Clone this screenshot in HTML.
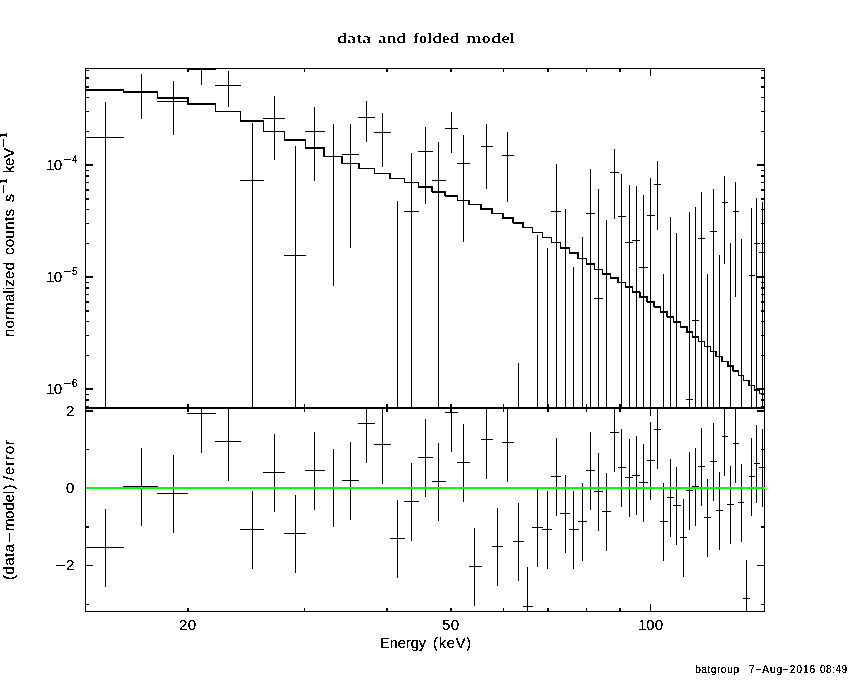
<!DOCTYPE html>
<html><head><meta charset="utf-8"><title>data and folded model</title>
<style>html,body{margin:0;padding:0;background:#fff;width:850px;height:680px;overflow:hidden}
body{position:relative}</style></head>
<body>
<svg width="850" height="680" viewBox="0 0 850 680" shape-rendering="crispEdges" style="position:absolute;left:0;top:0">
<rect x="0" y="0" width="850" height="680" fill="#fff"/>
<path fill="#000" d="M85 68h680v1h-680zM85 407h680v2h-680zM85 611h680v1h-680zM85 68h1v544h-1zM764 68h1v544h-1zM86 164h7v2h-7zM757 164h7v2h-7zM86 131h3v1h-3zM761 131h3v1h-3zM86 111h3v1h-3zM761 111h3v1h-3zM86 97h3v1h-3zM761 97h3v1h-3zM86 86h3v2h-3zM761 86h3v2h-3zM86 77h3v2h-3zM761 77h3v2h-3zM86 70h3v1h-3zM761 70h3v1h-3zM86 276h7v2h-7zM757 276h7v2h-7zM86 243h3v1h-3zM761 243h3v1h-3zM86 223h3v1h-3zM761 223h3v1h-3zM86 209h3v1h-3zM761 209h3v1h-3zM86 198h3v2h-3zM761 198h3v2h-3zM86 189h3v2h-3zM761 189h3v2h-3zM86 182h3v1h-3zM761 182h3v1h-3zM86 175h3v2h-3zM761 175h3v2h-3zM86 170h3v1h-3zM761 170h3v1h-3zM86 388h7v2h-7zM757 388h7v2h-7zM86 355h3v1h-3zM761 355h3v1h-3zM86 335h3v1h-3zM761 335h3v1h-3zM86 321h3v1h-3zM761 321h3v1h-3zM86 310h3v2h-3zM761 310h3v2h-3zM86 301h3v2h-3zM761 301h3v2h-3zM86 294h3v1h-3zM761 294h3v1h-3zM86 287h3v2h-3zM761 287h3v2h-3zM86 282h3v1h-3zM761 282h3v1h-3zM86 406h3v1h-3zM761 406h3v1h-3zM86 399h3v2h-3zM761 399h3v2h-3zM86 394h3v1h-3zM761 394h3v1h-3zM86 604h3v1h-3zM761 604h3v1h-3zM86 565h7v1h-7zM757 565h7v1h-7zM86 526h3v2h-3zM761 526h3v2h-3zM86 488h7v1h-7zM757 488h7v1h-7zM86 449h3v1h-3zM761 449h3v1h-3zM86 410h7v2h-7zM757 410h7v2h-7zM187 69h2v3h-2zM187 409h2v3h-2zM187 404h2v3h-2zM187 608h2v3h-2zM304 69h1v3h-1zM304 409h1v3h-1zM304 404h1v3h-1zM304 608h1v3h-1zM386 69h2v3h-2zM386 409h2v3h-2zM386 404h2v3h-2zM386 608h2v3h-2zM450 69h2v3h-2zM450 409h2v3h-2zM450 404h2v3h-2zM450 608h2v3h-2zM503 69h1v3h-1zM503 409h1v3h-1zM503 404h1v3h-1zM503 608h1v3h-1zM547 69h2v3h-2zM547 409h2v3h-2zM547 404h2v3h-2zM547 608h2v3h-2zM586 69h1v3h-1zM586 409h1v3h-1zM586 404h1v3h-1zM586 608h1v3h-1zM619 69h2v3h-2zM619 409h2v3h-2zM619 404h2v3h-2zM619 608h2v3h-2zM650 69h1v7h-1zM650 409h1v7h-1zM650 400h1v7h-1zM650 604h1v7h-1zM105 102h1v305h-1zM85 137h39v1h-39zM105 509h1v78h-1zM85 547h39v1h-39zM141 74h1v45h-1zM123 91h35v1h-35zM141 448h1v78h-1zM123 486h35v1h-35zM173 81h1v54h-1zM157 101h31v1h-31zM173 455h1v78h-1zM157 493h31v1h-31zM201 68h1v17h-1zM187 69h29v1h-29zM201 408h1v45h-1zM187 413h29v1h-29zM228 71h1v36h-1zM215 85h26v1h-26zM228 408h1v73h-1zM215 441h26v1h-26zM252 123h1v284h-1zM240 180h24v1h-24zM252 491h1v78h-1zM240 529h24v1h-24zM274 96h1v64h-1zM263 118h22v1h-22zM274 434h1v78h-1zM263 472h22v1h-22zM295 146h1v261h-1zM284 255h22v1h-22zM295 495h1v78h-1zM284 533h22v1h-22zM314 107h1v74h-1zM305 131h20v1h-20zM314 432h1v78h-1zM305 470h20v1h-20zM333 124h1v162h-1zM324 156h19v1h-19zM333 449h1v78h-1zM324 487h19v1h-19zM350 124h1v124h-1zM342 154h17v1h-17zM350 442h1v78h-1zM342 480h17v1h-17zM366 101h1v41h-1zM358 117h17v1h-17zM366 408h1v55h-1zM358 423h17v1h-17zM382 113h1v54h-1zM374 132h17v1h-17zM382 408h1v76h-1zM374 444h17v1h-17zM397 201h1v206h-1zM397 500h1v78h-1zM390 538h15v1h-15zM411 153h1v254h-1zM404 211h15v1h-15zM411 463h1v78h-1zM404 501h15v1h-15zM425 127h1v77h-1zM418 151h15v1h-15zM425 419h1v78h-1zM418 457h15v1h-15zM438 142h1v265h-1zM432 180h14v1h-14zM438 443h1v78h-1zM432 481h14v1h-14zM451 112h1v41h-1zM445 128h13v1h-13zM451 408h1v44h-1zM445 412h13v1h-13zM463 135h1v107h-1zM457 163h13v1h-13zM463 424h1v78h-1zM457 462h13v1h-13zM474 528h1v78h-1zM469 566h13v1h-13zM486 124h1v65h-1zM481 146h12v1h-12zM486 408h1v71h-1zM481 439h12v1h-12zM497 508h1v78h-1zM492 546h11v1h-11zM507 132h1v70h-1zM502 155h12v1h-12zM507 408h1v74h-1zM502 442h12v1h-12zM518 363h1v44h-1zM518 503h1v78h-1zM513 541h11v1h-11zM527 567h1v45h-1zM523 606h10v1h-10zM537 235h1v172h-1zM537 489h1v78h-1zM532 527h11v1h-11zM547 248h1v159h-1zM547 491h1v78h-1zM542 529h10v1h-10zM556 164h1v243h-1zM551 211h10v1h-10zM556 438h1v78h-1zM551 476h10v1h-10zM565 209h1v198h-1zM565 475h1v78h-1zM560 513h10v1h-10zM573 267h1v140h-1zM573 491h1v78h-1zM569 529h10v1h-10zM582 237h1v170h-1zM582 483h1v78h-1zM578 521h9v1h-9zM590 169h1v238h-1zM586 213h9v1h-9zM590 432h1v78h-1zM586 470h9v1h-9zM598 189h1v218h-1zM594 298h9v1h-9zM598 453h1v78h-1zM594 491h9v1h-9zM606 220h1v187h-1zM606 473h1v78h-1zM602 511h9v1h-9zM614 149h1v70h-1zM610 172h9v1h-9zM614 408h1v64h-1zM610 432h9v1h-9zM621 174h1v233h-1zM618 216h8v1h-8zM621 429h1v78h-1zM618 467h8v1h-8zM629 185h1v222h-1zM625 242h8v1h-8zM629 439h1v78h-1zM625 477h8v1h-8zM636 186h1v221h-1zM632 240h8v1h-8zM636 436h1v79h-1zM632 475h8v1h-8zM643 195h1v212h-1zM639 267h9v1h-9zM643 444h1v78h-1zM639 482h9v1h-9zM650 178h1v229h-1zM647 215h8v1h-8zM650 422h1v78h-1zM647 460h8v1h-8zM657 161h1v69h-1zM654 184h7v1h-7zM657 408h1v61h-1zM654 429h7v1h-7zM663 274h1v133h-1zM663 483h1v78h-1zM660 521h8v1h-8zM670 217h1v190h-1zM670 459h1v78h-1zM667 497h7v1h-7zM676 233h1v174h-1zM676 467h1v78h-1zM673 505h8v1h-8zM683 499h1v78h-1zM680 537h7v1h-7zM689 212h1v195h-1zM686 399h7v1h-7zM689 452h1v78h-1zM686 490h7v1h-7zM695 207h1v200h-1zM692 320h7v1h-7zM695 448h1v78h-1zM692 486h7v1h-7zM701 192h1v215h-1zM698 238h7v1h-7zM701 428h1v78h-1zM698 466h7v1h-7zM707 274h1v133h-1zM707 479h1v78h-1zM704 517h7v1h-7zM713 189h1v218h-1zM710 231h7v1h-7zM713 423h1v78h-1zM710 461h7v1h-7zM719 255h1v152h-1zM719 472h1v78h-1zM716 510h7v1h-7zM724 176h1v88h-1zM722 202h6v1h-6zM724 408h1v68h-1zM722 436h6v1h-6zM730 243h1v164h-1zM730 466h1v78h-1zM727 504h7v1h-7zM735 182h1v115h-1zM733 211h6v1h-6zM735 408h1v75h-1zM733 443h6v1h-6zM741 239h1v168h-1zM741 464h1v78h-1zM738 502h6v1h-6zM746 560h1v52h-1zM743 598h7v1h-7zM751 208h1v199h-1zM749 275h6v1h-6zM751 438h1v78h-1zM749 476h6v1h-6zM756 198h1v209h-1zM754 243h6v1h-6zM756 425h1v78h-1zM754 463h6v1h-6zM762 202h1v205h-1zM759 252h6v1h-6zM762 429h1v78h-1zM759 467h6v1h-6zM85 89h39v2h-39zM123 90h1v2h-1zM123 91h35v2h-35zM157 91h1v7h-1zM157 97h31v2h-31zM187 97h1v7h-1zM188 97h1v7h-1zM187 103h29v2h-29zM215 103h1v9h-1zM215 111h26v1h-26zM240 111h1v10h-1zM240 120h24v2h-24zM263 120h1v12h-1zM263 131h22v1h-22zM284 131h1v10h-1zM284 139h22v2h-22zM305 140h1v8h-1zM305 147h20v2h-20zM324 147h1v10h-1zM323 147h1v10h-1zM324 156h19v1h-19zM342 156h1v8h-1zM341 156h1v8h-1zM342 163h17v1h-17zM358 163h1v6h-1zM359 163h1v6h-1zM358 168h17v1h-17zM374 168h1v6h-1zM374 173h17v1h-17zM390 173h1v6h-1zM389 173h1v6h-1zM390 178h15v1h-15zM404 178h1v5h-1zM404 182h15v1h-15zM418 182h1v5h-1zM418 186h15v2h-15zM432 186h1v6h-1zM431 186h1v6h-1zM432 191h14v2h-14zM445 191h1v5h-1zM444 191h1v5h-1zM445 195h13v2h-13zM457 195h1v6h-1zM457 200h13v1h-13zM469 200h1v5h-1zM468 200h1v5h-1zM469 204h13v1h-13zM481 204h1v6h-1zM480 204h1v6h-1zM481 208h12v2h-12zM492 209h1v5h-1zM491 209h1v5h-1zM492 213h11v1h-11zM502 213h1v5h-1zM503 213h1v5h-1zM502 217h12v2h-12zM513 217h1v6h-1zM512 217h1v6h-1zM513 222h11v2h-11zM523 222h1v6h-1zM522 222h1v6h-1zM523 227h10v1h-10zM532 227h1v6h-1zM532 232h11v1h-11zM542 232h1v6h-1zM542 237h10v1h-10zM551 237h1v6h-1zM551 242h10v1h-10zM560 242h1v6h-1zM560 247h10v2h-10zM569 247h1v6h-1zM569 252h10v2h-10zM578 252h1v7h-1zM577 252h1v7h-1zM578 258h9v1h-9zM586 258h1v6h-1zM586 263h9v2h-9zM594 263h1v7h-1zM594 269h9v1h-9zM602 269h1v5h-1zM602 273h9v2h-9zM610 273h1v6h-1zM610 277h9v2h-9zM618 278h1v5h-1zM617 278h1v5h-1zM618 282h8v1h-8zM625 282h1v6h-1zM625 286h8v2h-8zM632 287h1v6h-1zM632 291h8v2h-8zM639 292h1v5h-1zM640 292h1v5h-1zM639 296h9v2h-9zM647 296h1v6h-1zM646 296h1v6h-1zM647 301h8v2h-8zM654 301h1v6h-1zM653 301h1v6h-1zM654 306h7v2h-7zM660 306h1v6h-1zM660 311h8v2h-8zM667 311h1v6h-1zM666 311h1v6h-1zM667 316h7v2h-7zM673 316h1v6h-1zM673 321h8v2h-8zM680 321h1v6h-1zM680 326h7v2h-7zM686 326h1v6h-1zM687 326h1v6h-1zM686 331h7v2h-7zM692 331h1v6h-1zM692 336h7v2h-7zM698 336h1v6h-1zM698 341h7v1h-7zM704 341h1v6h-1zM704 346h7v1h-7zM710 346h1v6h-1zM710 351h7v1h-7zM716 351h1v6h-1zM715 351h1v6h-1zM716 356h7v1h-7zM722 356h1v6h-1zM721 356h1v6h-1zM722 361h6v1h-6zM727 361h1v5h-1zM728 361h1v5h-1zM727 365h7v2h-7zM733 365h1v6h-1zM732 365h1v6h-1zM733 370h6v2h-6zM738 370h1v6h-1zM738 375h6v1h-6zM743 375h1v6h-1zM743 380h7v1h-7zM749 380h1v6h-1zM748 380h1v6h-1zM749 385h6v1h-6zM754 385h1v5h-1zM754 389h6v2h-6zM759 389h1v5h-1zM759 393h6v1h-6z"/>
<rect x="86" y="487" width="679" height="2" fill="#00ff00"/>
<defs><filter id="crisp" filterUnits="userSpaceOnUse" x="0" y="0" width="850" height="680" color-interpolation-filters="sRGB"><feComponentTransfer><feFuncA type="discrete" tableValues="0 1 1"/></feComponentTransfer></filter><filter id="crispT" filterUnits="userSpaceOnUse" x="0" y="0" width="850" height="680" color-interpolation-filters="sRGB"><feComponentTransfer><feFuncA type="discrete" tableValues="0 0 1"/></feComponentTransfer></filter></defs>
<g fill="#000" shape-rendering="auto" filter="url(#crispT)">
<text x="337.00" y="43.00" font-size="15.50" textLength="34.00" lengthAdjust="spacingAndGlyphs" style="font-family:'Liberation Serif',serif" font-weight="bold">data</text>
<text x="378.00" y="43.00" font-size="15.50" textLength="28.00" lengthAdjust="spacingAndGlyphs" style="font-family:'Liberation Serif',serif" font-weight="bold">and</text>
<text x="413.00" y="43.00" font-size="15.50" textLength="46.00" lengthAdjust="spacingAndGlyphs" style="font-family:'Liberation Serif',serif" font-weight="bold">folded</text>
<text x="466.00" y="43.00" font-size="15.50" textLength="48.80" lengthAdjust="spacingAndGlyphs" style="font-family:'Liberation Serif',serif" font-weight="bold">model</text>
</g>
<g fill="#000" shape-rendering="auto" filter="url(#crisp)">
<text x="46.00" y="170.00" font-size="15.00" textLength="16.00" lengthAdjust="spacing" style="font-family:'Liberation Sans',sans-serif">10</text>
<text x="46.00" y="282.00" font-size="15.00" textLength="16.00" lengthAdjust="spacing" style="font-family:'Liberation Sans',sans-serif">10</text>
<text x="46.00" y="394.00" font-size="15.00" textLength="16.00" lengthAdjust="spacing" style="font-family:'Liberation Sans',sans-serif">10</text>
<text x="63.00" y="163.00" font-size="11.00" textLength="8.40" lengthAdjust="spacingAndGlyphs" style="font-family:'Liberation Sans',sans-serif">−</text>
<text x="72.00" y="163.00" font-size="10.00" textLength="6.00" lengthAdjust="spacing" style="font-family:'Liberation Sans',sans-serif">4</text>
<text x="63.00" y="275.00" font-size="11.00" textLength="8.40" lengthAdjust="spacingAndGlyphs" style="font-family:'Liberation Sans',sans-serif">−</text>
<text x="72.00" y="275.00" font-size="10.00" textLength="6.00" lengthAdjust="spacing" style="font-family:'Liberation Sans',sans-serif">5</text>
<text x="63.00" y="387.00" font-size="11.00" textLength="8.40" lengthAdjust="spacingAndGlyphs" style="font-family:'Liberation Sans',sans-serif">−</text>
<text x="72.00" y="387.00" font-size="10.00" textLength="6.00" lengthAdjust="spacing" style="font-family:'Liberation Sans',sans-serif">6</text>
<text x="66.00" y="416.00" font-size="15.00" textLength="8.00" lengthAdjust="spacing" style="font-family:'Liberation Sans',sans-serif">2</text>
<text x="66.00" y="493.00" font-size="15.00" textLength="8.00" lengthAdjust="spacing" style="font-family:'Liberation Sans',sans-serif">0</text>
<text x="55.00" y="570.50" font-size="15.50" textLength="11.00" lengthAdjust="spacingAndGlyphs" style="font-family:'Liberation Sans',sans-serif">−</text>
<text x="66.00" y="570.00" font-size="15.00" textLength="8.00" lengthAdjust="spacing" style="font-family:'Liberation Sans',sans-serif">2</text>
<text x="179.00" y="630.00" font-size="15.00" textLength="17.00" lengthAdjust="spacing" style="font-family:'Liberation Sans',sans-serif">20</text>
<text x="442.00" y="630.00" font-size="15.00" textLength="17.00" lengthAdjust="spacing" style="font-family:'Liberation Sans',sans-serif">50</text>
<text x="638.00" y="630.00" font-size="15.00" textLength="25.00" lengthAdjust="spacing" style="font-family:'Liberation Sans',sans-serif">100</text>
<text x="380.00" y="648.00" font-size="14.50" textLength="46.00" lengthAdjust="spacing" style="font-family:'Liberation Sans',sans-serif">Energy</text>
<text x="433.00" y="648.00" font-size="14.50" textLength="38.00" lengthAdjust="spacing" style="font-family:'Liberation Sans',sans-serif">(keV)</text>
<text x="695.00" y="673.00" font-size="10.50" textLength="44.00" lengthAdjust="spacing" style="font-family:'Liberation Sans',sans-serif">batgroup</text>
<text x="749.00" y="673.00" font-size="10.00" textLength="66.00" lengthAdjust="spacing" style="font-family:'Liberation Sans',sans-serif">7−Aug−2016</text>
<text x="820.00" y="673.00" font-size="10.00" textLength="27.00" lengthAdjust="spacing" style="font-family:'Liberation Sans',sans-serif">08:49</text>
<text transform="translate(14.00,337.00) rotate(-90)" x="0.00" y="0.00" font-size="15.00" textLength="75.00" lengthAdjust="spacing" style="font-family:'Liberation Sans',sans-serif">normalized</text>
<text transform="translate(14.00,255.00) rotate(-90)" x="0.00" y="0.00" font-size="15.00" textLength="46.00" lengthAdjust="spacing" style="font-family:'Liberation Sans',sans-serif">counts</text>
<text transform="translate(14.00,202.00) rotate(-90)" x="0.00" y="0.00" font-size="15.00" textLength="8.00" lengthAdjust="spacingAndGlyphs" style="font-family:'Liberation Sans',sans-serif">s</text>
<text transform="translate(7.00,193.00) rotate(-90)" x="0.00" y="0.00" font-size="10.00" textLength="8.40" lengthAdjust="spacingAndGlyphs" style="font-family:'Liberation Sans',sans-serif">−</text>
<text transform="translate(7.00,184.00) rotate(-90)" x="0.00" y="0.00" font-size="10.00" textLength="5.00" lengthAdjust="spacing" style="font-family:'Liberation Sans',sans-serif">1</text>
<text transform="translate(14.00,173.00) rotate(-90)" x="0.00" y="0.00" font-size="15.00" textLength="25.00" lengthAdjust="spacing" style="font-family:'Liberation Sans',sans-serif">keV</text>
<text transform="translate(7.00,147.00) rotate(-90)" x="0.00" y="0.00" font-size="10.00" textLength="8.40" lengthAdjust="spacingAndGlyphs" style="font-family:'Liberation Sans',sans-serif">−</text>
<text transform="translate(7.00,138.00) rotate(-90)" x="0.00" y="0.00" font-size="10.00" textLength="5.00" lengthAdjust="spacing" style="font-family:'Liberation Sans',sans-serif">1</text>
<text transform="translate(14.00,580.00) rotate(-90)" x="0.00" y="0.00" font-size="15.00" textLength="36.00" lengthAdjust="spacing" style="font-family:'Liberation Sans',sans-serif">(data</text>
<text transform="translate(14.00,543.00) rotate(-90)" x="0.00" y="0.00" font-size="15.00" textLength="11.00" lengthAdjust="spacingAndGlyphs" style="font-family:'Liberation Sans',sans-serif">−</text>
<text transform="translate(14.00,531.00) rotate(-90)" x="0.00" y="0.00" font-size="15.00" textLength="40.00" lengthAdjust="spacing" style="font-family:'Liberation Sans',sans-serif">model</text>
<text transform="translate(14.00,489.50) rotate(-90)" x="0.00" y="0.00" font-size="15.00" style="font-family:'Liberation Sans',sans-serif">)</text>
<text transform="translate(14.00,480.50) rotate(-90)" x="0.00" y="0.00" font-size="15.00" style="font-family:'Liberation Sans',sans-serif">/</text>
<text transform="translate(14.00,475.00) rotate(-90)" x="0.00" y="0.00" font-size="15.00" textLength="35.00" lengthAdjust="spacing" style="font-family:'Liberation Sans',sans-serif">error</text>
</g>
</svg>
</body></html>
